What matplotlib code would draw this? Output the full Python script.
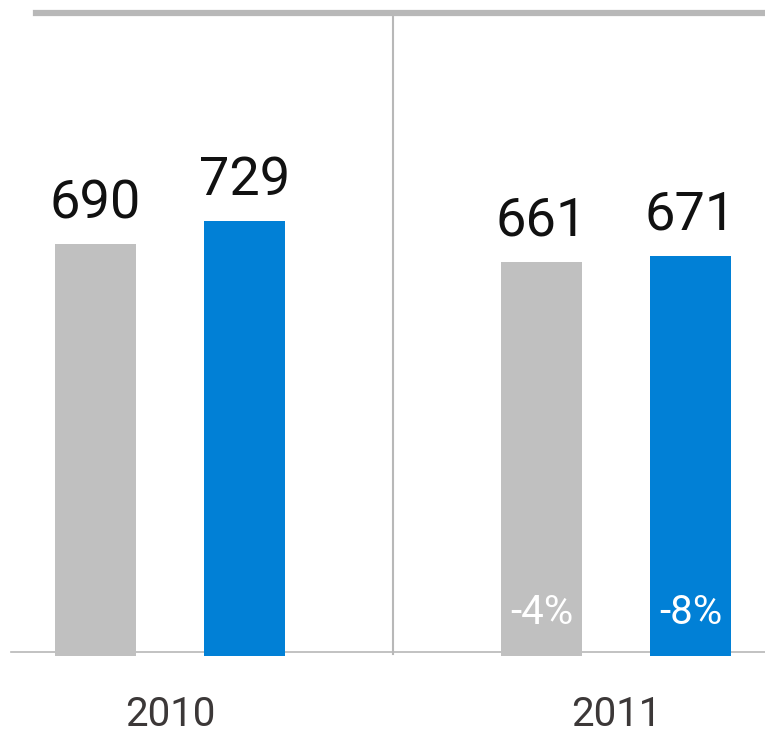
import matplotlib.pyplot as plt
import numpy as np

years = ["2010", "2011"]
grey_vals = [690, 661]
blue_vals = [729, 671]
changes = ["-4%", "-8%"]

plt.rcParams['font.family'] = ['Roboto', 'DejaVu Sans']

fig = plt.figure(figsize=(7.65, 7.34), dpi=100)
ax = fig.add_axes([0, 0, 1, 1])
ax.set_xlim(-0.381, 1.334)
ax.set_ylim(-134, 1095)
ax.axis('off')

x = np.arange(len(years))
off = 0.167
w = 0.181
grey = '#c0c0c0'
blue = '#0180d6'
line_c = '#b8b8b8'

ax.axhline(3, xmin=0.014, xmax=1, color=line_c, lw=1.2, zorder=1)
ax.axhline(1073, xmin=0.047, xmax=1, color=line_c, lw=4.5, zorder=1)
ax.plot([0.5, 0.5], [0, 1070], color=line_c, lw=1.5, zorder=1)

ax.bar(x - off, grey_vals, w, bottom=-4, color=grey, zorder=2)
ax.bar(x + off, blue_vals, w, bottom=-4, color=blue, zorder=2)

for i in range(len(years)):
    ax.annotate(str(grey_vals[i]), (x[i] - off, grey_vals[i]), xytext=(0, 9),
                textcoords='offset points', ha='center', va='bottom',
                fontsize=39, color='#111111')
    ax.annotate(str(blue_vals[i]), (x[i] + off, blue_vals[i]), xytext=(0, 9),
                textcoords='offset points', ha='center', va='bottom',
                fontsize=39, color='#111111')
    ax.text(x[i], -101, years[i], ha='center', va='center',
            fontsize=29, color='#3c3838')

ax.text(x[1] - off, 70, changes[0], ha='center', va='center',
        fontsize=29, color='white', zorder=3)
ax.text(x[1] + off, 70, changes[1], ha='center', va='center',
        fontsize=29, color='white', zorder=3)

fig.savefig('out.png', dpi=100)
